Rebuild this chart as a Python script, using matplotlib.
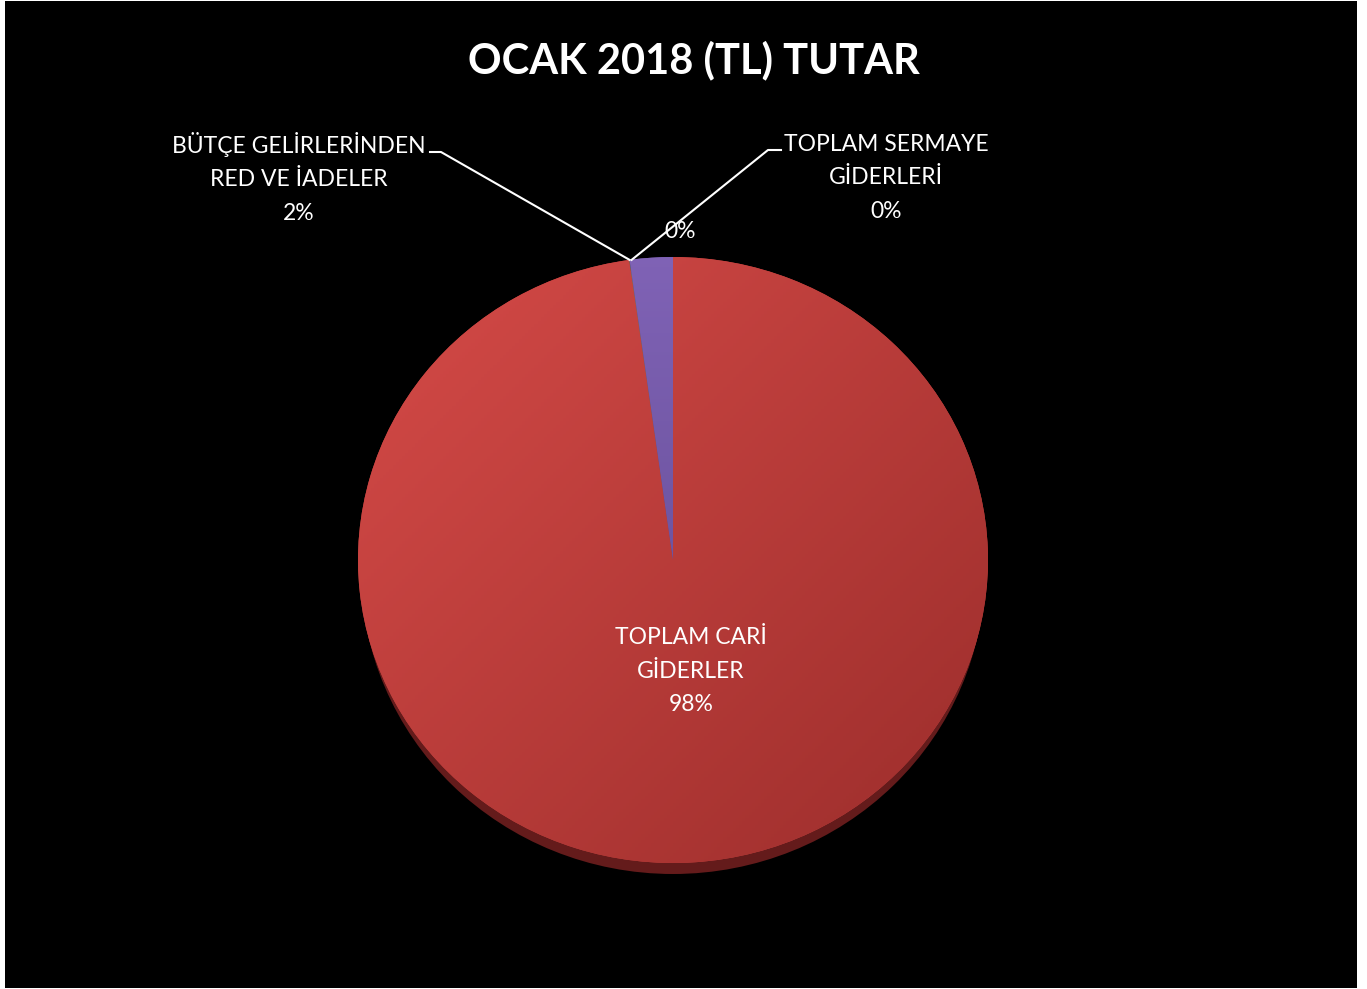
"""
OCAK 2018 (TL) TUTAR - pasta grafik
"""

import numpy as np
import matplotlib.pyplot as plt
from matplotlib import transforms
from matplotlib.patches import Rectangle, Ellipse
from matplotlib.colors import LinearSegmentedColormap

# veri
kategoriler = ['TOPLAM CARİ\nGİDERLER', 'TOPLAM SERMAYE\nGİDERLERİ', '',
               'BÜTÇE GELİRLERİNDEN\nRED VE İADELER']
degerler = [97.8, 0.02, 0.01, 2.2]
renkler = ['#C0403D', '#9BBB59', '#4BACC6', '#7458A6']

plt.rcParams['font.family'] = ['Lato', 'Open Sans', 'DejaVu Sans']

W, H = 1367, 989
fig = plt.figure(figsize=(W / 100, H / 100), dpi=100, facecolor='white')
fig.patches.append(Rectangle((5 / W, 1 / H), 1352 / W, 987 / H,
                             transform=fig.transFigure, facecolor='black',
                             edgecolor='none', zorder=-5))

ax = fig.add_axes([0, 0, 1, 1])
ax.set_xlim(0, W)
ax.set_ylim(0, H)
ax.axis('off')

# pasta merkezi (piksel), hafif basık elips
cx, cy = 673, H - 560
r = 315
k = 303 / 315
basik = transforms.Affine2D().translate(-cx, -cy).scale(1, k).translate(cx, cy)

# alt kenar (3B kalinlik)
ax.add_patch(Ellipse((cx, cy - 11), 2 * r - 6, 2 * r * k, facecolor='#641B1B',
                     edgecolor='none', zorder=1))

wedges, _ = ax.pie(degerler, colors=renkler, startangle=90, counterclock=False,
                   center=(cx, cy), radius=r, frame=True,
                   wedgeprops=dict(linewidth=0, zorder=2))
ax.set_aspect('auto')
ax.set_xlim(0, W)
ax.set_ylim(0, H)
ax.axis('off')
for w in wedges:
    w.set_transform(basik + ax.transData)

# degrade dolgu
def degrade(wedge, c1, c2, aci):
    cmap = LinearSegmentedColormap.from_list('g', [c1, c2])
    yy, xx = np.mgrid[0:1:200j, 0:1:200j]
    t = np.cos(np.radians(aci)) * xx + np.sin(np.radians(aci)) * (1 - yy)
    t = (t - t.min()) / (t.max() - t.min())
    im = ax.imshow(t, cmap=cmap, extent=(cx - r, cx + r, cy - r, cy + r),
                   origin='upper', zorder=3, aspect='auto')
    im.set_clip_path(wedge)

degrade(wedges[0], '#D64B48', '#9B2D2B', -45)
degrade(wedges[3], '#8063B6', '#5C468C', -90)
ax.set_xlim(0, W)
ax.set_ylim(0, H)

# yuzdeler
toplam = sum(degerler)
yuzde = [f'{round(v / toplam * 100):.0f}%' for v in degerler]

# dilim sinir noktasi (kirmizi/mor)
aci = np.radians(90 - 360 * (degerler[0] + degerler[1] + degerler[2]) / toplam)
px = cx + r * np.cos(aci)
py = cy + r * k * np.sin(aci)

yazi = dict(color='white', fontsize=16.5, ha='center', va='center',
            linespacing=1.72, zorder=5)

ax.text(691, H - 671, kategoriler[0] + '\n' + yuzde[0], **yazi)
ax.text(299, H - 178, kategoriler[3] + '\n' + yuzde[3], **yazi)
ax.text(886, H - 178, kategoriler[1] + '\n' + yuzde[1], **yazi)
ax.text(680, H - 232, yuzde[2], **yazi)

# kilavuz cizgiler
ax.plot([430, 441, px], [H - 152, H - 152, py], color='white', lw=1.5, zorder=4)
ax.plot([781, 768, px + 2], [H - 150, H - 150, py], color='white', lw=1.5, zorder=4)

ax.text(694, H - 60, 'OCAK 2018 (TL) TUTAR', color='white', fontsize=30,
        fontweight='bold', ha='center', va='center', zorder=5)

plt.savefig('out.png', dpi=100, facecolor='white')
plt.close()
